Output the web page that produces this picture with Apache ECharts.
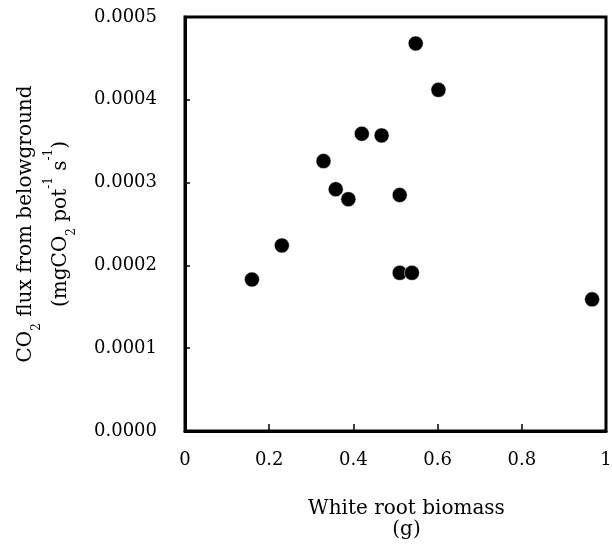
<!DOCTYPE html>
<html><head><meta charset="utf-8">
<script src="https://cdn.jsdelivr.net/npm/echarts@6/dist/echarts.min.js"></script>
<style>html,body{margin:0;padding:0;background:#fff}#c{width:612px;height:550px}</style>
</head><body><div id="c"></div>
<script>
var biomass = [0.548, 0.602, 0.420, 0.467, 0.329, 0.358, 0.388, 0.510, 0.230, 0.159, 0.510, 0.539, 0.967];
var co2flux = [0.000468, 0.000412, 0.000359, 0.000357, 0.000326, 0.000292, 0.000280, 0.000285, 0.000224, 0.000183, 0.000191, 0.000191, 0.000159];
var xTicks = [0, 0.2, 0.4, 0.6, 0.8, 1];
var yTicks = [0, 0.0001, 0.0002, 0.0003, 0.0004, 0.0005];

var pts = biomass.map(function(v,i){return [v, co2flux[i]];});
var F = 'DejaVu Serif';
var chart = echarts.init(document.getElementById('c'));
chart.setOption({
  animation:false,
  backgroundColor:'#fff',
  grid:{left:185,right:6,top:17,bottom:119,containLabel:false,outerBoundsMode:'none',show:true,borderColor:'#000',borderWidth:3,backgroundColor:'transparent'},
  xAxis:{type:'value',min:xTicks[0],max:xTicks[xTicks.length-1],interval:0.2,
    axisLine:{show:true,lineStyle:{color:'#000',width:3}},
    axisTick:{show:true,inside:true,length:7,lineStyle:{color:'#000',width:1.5}},
    axisLabel:{margin:20,color:'#000',fontFamily:F,fontSize:18,formatter:function(v){return String(+v.toFixed(1));}},
    splitLine:{show:false},
    name:'White root biomass\n(g)',nameLocation:'middle',nameGap:67,
    nameTextStyle:{color:'#000',fontFamily:F,fontSize:20,lineHeight:21,padding:[0,0,0,22]}
  },
  yAxis:{type:'value',min:yTicks[0],max:yTicks[yTicks.length-1],interval:0.0001,
    axisLine:{show:true,lineStyle:{color:'#000',width:3}},
    axisTick:{show:true,inside:true,length:5,lineStyle:{color:'#000',width:1.5}},
    axisLabel:{margin:28,color:'#000',fontFamily:F,fontSize:18,formatter:function(v){return v.toFixed(4);}},
    splitLine:{show:false},
    name:'{n|CO}{sb|2}{n| flux from belowground}\n{n|(mgCO}{sb|2}{n| pot}{sp|-1}{n| s}{sp|-1}{n|)}',
    nameLocation:'middle',nameGap:107,nameRotate:90,
    nameTextStyle:{color:'#000',fontFamily:F,fontSize:20,lineHeight:35,
      rich:{
        n:{fontFamily:F,fontSize:20,color:'#000',lineHeight:35,verticalAlign:'middle'},
        sb:{fontFamily:F,fontSize:12,color:'#000',lineHeight:16,verticalAlign:'bottom'},
        sp:{fontFamily:F,fontSize:12,color:'#000',lineHeight:16,verticalAlign:'top'}
      }}
  },
  series:[{type:'scatter',data:pts,symbol:'circle',symbolSize:15,
    itemStyle:{color:'#000',borderColor:'#fff',borderWidth:0.5,opacity:1}}]
});
</script></body></html>
